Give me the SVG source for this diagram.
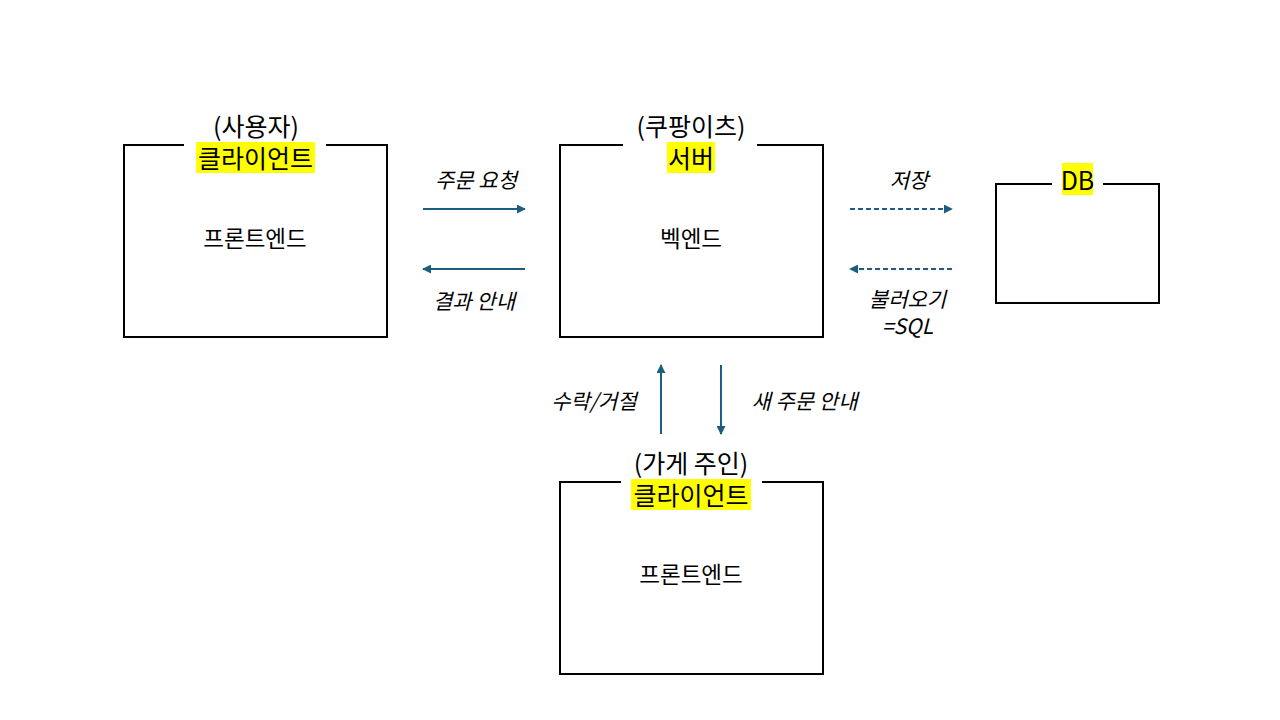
<svg xmlns="http://www.w3.org/2000/svg" width="1280" height="720" viewBox="0 0 1280 720">
<defs>
<style>
.box{fill:none;stroke:#000;stroke-width:2}
.t{font-family:"Noto Sans CJK KR","Noto Sans",sans-serif;fill:#000;text-anchor:middle}
.title{font-size:25px}
.body{font-size:22.5px}
.lbl{font-size:21px;font-style:italic}
.hl{fill:#FFFF00}
.ar{stroke:#1B5E80;stroke-width:2;fill:none}
.dash{stroke-dasharray:5 3}
</style>
<marker id="ah" viewBox="0 0 10 10" refX="9" refY="5" markerWidth="4.5" markerHeight="4.5" orient="auto">
<path d="M0,0 L10,5 L0,10 z" fill="#1B5E80"/>
</marker>
</defs>
<rect width="1280" height="720" fill="#fff"/>

<g id="user-client">
<path class="box" d="M184,145 H124 V337 H387 V145 H326"/>
<text class="t title" x="256" y="136">(사용자)</text>
<rect class="hl" x="196" y="142" width="119" height="31"/>
<text class="t title" x="255.5" y="168">클라이언트</text>
<text class="t body" x="255" y="247">프론트엔드</text>
</g>

<g id="server">
<path class="box" d="M623,145 H560 V337 H823 V145 H757"/>
<text class="t title" x="691" y="136">(쿠팡이츠)</text>
<rect class="hl" x="667" y="142" width="48" height="31"/>
<text class="t title" x="691" y="168">서버</text>
<text class="t body" x="691" y="247">벡엔드</text>
</g>

<g id="db">
<path class="box" d="M1052,184 H996 V303 H1159 V184 H1103"/>
<rect class="hl" x="1062" y="163" width="31" height="32"/>
<text class="t title" x="1077.5" y="190">DB</text>
</g>

<g id="owner-client">
<path class="box" d="M621,482 H560 V674 H823 V482 H762"/>
<text class="t title" x="691" y="473">(가게 주인)</text>
<rect class="hl" x="631" y="479" width="120" height="31"/>
<text class="t title" x="691" y="505">클라이언트</text>
<text class="t body" x="691" y="583">프론트엔드</text>
</g>

<g id="connectors">
<line class="ar" x1="423" y1="209" x2="525" y2="209" marker-end="url(#ah)"/>
<line class="ar" x1="525" y1="269" x2="423" y2="269" marker-end="url(#ah)"/>
<line class="ar dash" x1="850" y1="209" x2="952" y2="209" marker-end="url(#ah)"/>
<line class="ar dash" x1="952" y1="269" x2="850" y2="269" marker-end="url(#ah)"/>
<line class="ar" x1="661" y1="434" x2="661" y2="365" marker-end="url(#ah)"/>
<line class="ar" x1="721" y1="365" x2="721" y2="434" marker-end="url(#ah)"/>
<text class="t lbl" x="476" y="188">주문 요청</text>
<text class="t lbl" x="474" y="309">결과 안내</text>
<text class="t lbl" x="909" y="188">저장</text>
<text class="t lbl" x="907.5" y="307">불러오기</text>
<text class="t lbl" x="907.5" y="334">=SQL</text>
<text class="t lbl" x="594" y="409">수락/거절</text>
<text class="t lbl" x="804.5" y="409">새 주문 안내</text>
</g>
</svg>
